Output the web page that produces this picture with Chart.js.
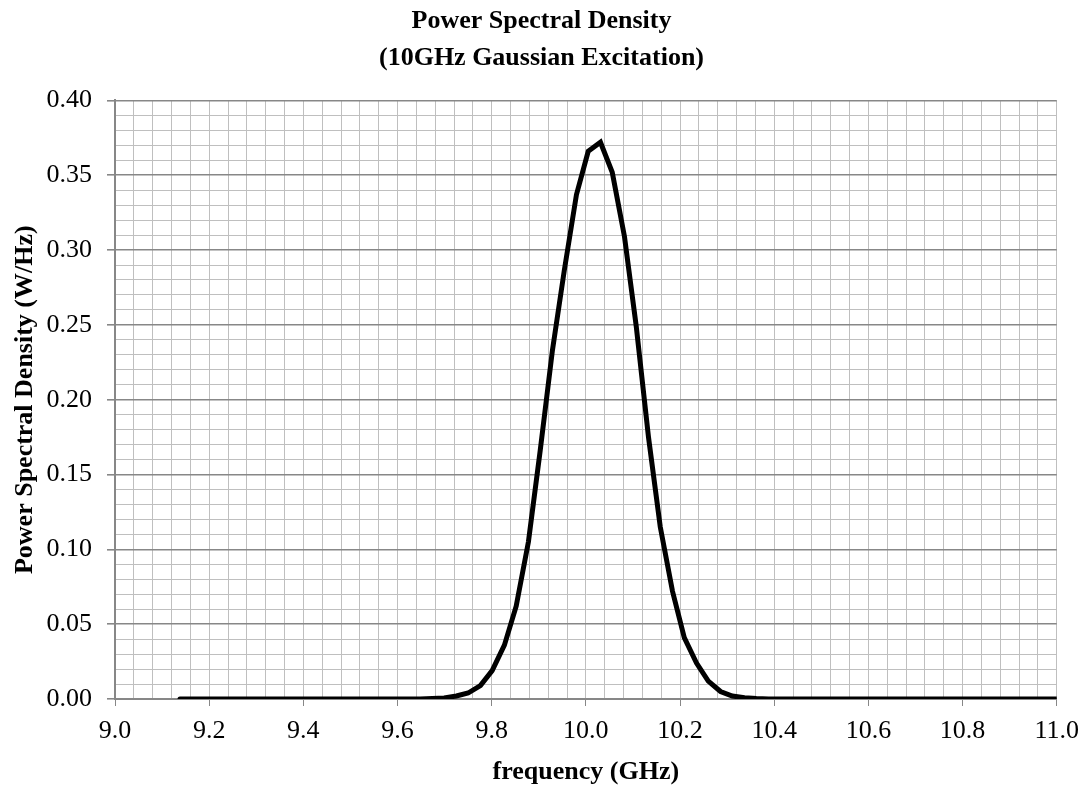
<!DOCTYPE html>
<html>
<head>
<meta charset="utf-8">
<title>Power Spectral Density</title>
<script src="https://cdn.jsdelivr.net/npm/chart.js@4.4.1/dist/chart.umd.min.js"></script>
<style>
  html, body { margin: 0; padding: 0; background: #fff; }
  #wrap { width: 1089px; height: 787px; position: relative; }
</style>
</head>
<body>
<div id="wrap"><canvas id="psdChart"></canvas></div>
<script>
const freqGHz = [
  9.138, 9.164, 9.189, 9.215, 9.240, 9.266, 9.291, 9.317, 9.342, 9.368,
  9.393, 9.419, 9.444, 9.470, 9.495, 9.521, 9.546, 9.572, 9.597, 9.623,
  9.648, 9.674, 9.699, 9.725, 9.750, 9.776, 9.801, 9.827, 9.852, 9.878,
  9.903, 9.929, 9.954, 9.980, 10.005, 10.031, 10.056, 10.082, 10.107, 10.133,
  10.158, 10.184, 10.209, 10.235, 10.260, 10.286, 10.311, 10.337, 10.362, 10.388,
  10.413, 10.439, 10.464, 10.490, 10.515, 10.541, 10.566, 10.592, 10.617, 10.643,
  10.668, 10.694, 10.719, 10.745, 10.770, 10.796, 10.821, 10.847, 10.872, 10.898,
  10.923, 10.949, 10.974, 11.000
];

// densidade espectral de potência (W/Hz)
const psdWHz = [
  0, 0, 0, 0, 0, 0, 0, 0, 0, 0,
  0, 0, 0, 0, 0, 0, 0, 0, 0, 0,
  0, 0.0003, 0.0007, 0.002, 0.004, 0.009, 0.019, 0.036, 0.062, 0.105,
  0.166, 0.233, 0.286, 0.337, 0.366, 0.372, 0.352, 0.309, 0.249, 0.175,
  0.115, 0.072, 0.041, 0.024, 0.012, 0.005, 0.002, 0.0008, 0.0003, 0,
  0, 0, 0, 0, 0, 0, 0, 0, 0, 0,
  0, 0, 0, 0, 0, 0, 0, 0, 0, 0,
  0, 0, 0, 0
];

const xTickLabels = ['9.0', '9.2', '9.4', '9.6', '9.8', '10.0', '10.2', '10.4', '10.6', '10.8', '11.0'];
const yTickLabels = ['0.00', '0.05', '0.10', '0.15', '0.20', '0.25', '0.30', '0.35', '0.40'];

const FONT = "'Liberation Serif', 'Times New Roman', serif";
const MAJOR = '#878787';
const MINOR = '#bfbfbf';

function isStep(v, step) {
    const r = v / step;
    return Math.abs(r - Math.round(r)) < 1e-6;
}

const ctx = document.getElementById('psdChart').getContext('2d');
new Chart(ctx, {
    type: 'line',
    data: {
        datasets: [{
            data: freqGHz.map((f, i) => ({ x: f, y: psdWHz[i] })),
            borderColor: '#000',
            borderWidth: 5,
            borderCapStyle: 'round',
            borderJoinStyle: 'miter',
            pointRadius: 0,
            tension: 0,
            fill: false
        }]
    },
    options: {
        responsive: true,
        maintainAspectRatio: false,
        animation: false,
        devicePixelRatio: 1,
        layout: { padding: { left: 26, right: 32, top: 0, bottom: 0 } },
        plugins: {
            legend: { display: false },
            tooltip: { enabled: false },
            title: {
                display: true,
                text: ['Power Spectral Density', '(10GHz Gaussian Excitation)'],
                color: '#000',
                font: { family: FONT, size: 26, weight: 'bold', lineHeight: 1.45 },
                padding: { top: 2, bottom: 23 }
            }
        },
        scales: {
            x: {
                type: 'linear',
                min: 9,
                max: 11,
                afterFit: s => { s.height = 88; },
                ticks: {
                    stepSize: 0.04,
                    autoSkip: false,
                    maxRotation: 0,
                    padding: 10,
                    color: '#000',
                    font: { family: FONT, size: 26 },
                    callback: v => isStep(v - 9, 0.2) ? xTickLabels[Math.round((v - 9) / 0.2)] : ''
                },
                grid: {
                    color: MINOR,
                    lineWidth: 1,
                    tickLength: 7,
                    tickColor: c => (c.tick && isStep(c.tick.value - 9, 0.2)) ? MAJOR : 'rgba(0,0,0,0)'
                },
                border: { color: MAJOR, width: 2 },
                title: {
                    display: true,
                    text: 'frequency (GHz)',
                    color: '#000',
                    font: { family: FONT, size: 26, weight: 'bold', lineHeight: 1 },
                    padding: { top: 0, bottom: 2 }
                }
            },
            y: {
                min: 0,
                max: 0.4,
                afterFit: s => { s.width = 89; },
                ticks: {
                    stepSize: 0.01,
                    autoSkip: false,
                    padding: 15,
                    color: '#000',
                    font: { family: FONT, size: 26 },
                    callback: v => isStep(v, 0.05) ? yTickLabels[Math.round(v / 0.05)] : ''
                },
                grid: {
                    color: c => (c.tick && isStep(c.tick.value, 0.05)) ? MAJOR : MINOR,
                    lineWidth: c => (c.tick && isStep(c.tick.value, 0.05)) ? 1.6 : 1,
                    tickLength: 8,
                    tickColor: c => (c.tick && isStep(c.tick.value, 0.05)) ? MAJOR : 'rgba(0,0,0,0)'
                },
                border: { color: MAJOR, width: 2 },
                title: {
                    display: true,
                    text: 'Power Spectral Density (W/Hz)',
                    color: '#000',
                    font: { family: FONT, size: 26, weight: 'bold', lineHeight: 1 },
                    padding: { top: -14, bottom: 0 }
                }
            }
        }
    }
});
</script>
</body>
</html>
